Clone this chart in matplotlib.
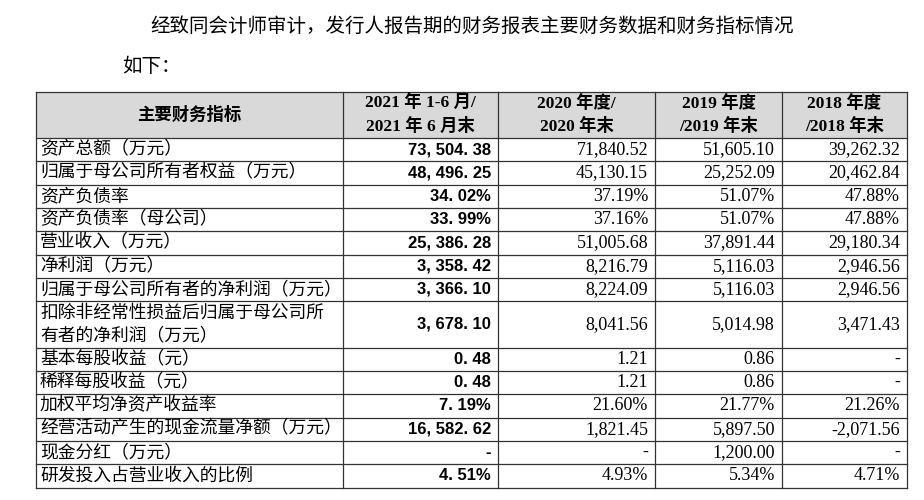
import matplotlib.pyplot as plt
from matplotlib.patches import Rectangle

plt.rcParams['font.family'] = ['Liberation Serif', 'Noto Sans CJK SC']

title_line1 = '经致同会计师审计，发行人报告期的财务报表主要财务数据和财务指标情况'
title_line2 = '如下：'
headers = ['主要财务指标', '2021 年 1-6 月/\n2021 年 6 月末', '2020 年度/\n2020 年末',
           '2019 年度\n/2019 年末', '2018 年度\n/2018 年末']
items = ['资产总额（万元）', '归属于母公司所有者权益（万元）', '资产负债率', '资产负债率（母公司）',
         '营业收入（万元）', '净利润（万元）', '归属于母公司所有者的净利润（万元）',
         '扣除非经常性损益后归属于母公司所\n有者的净利润（万元）', '基本每股收益（元）',
         '稀释每股收益（元）', '加权平均净资产收益率', '经营活动产生的现金流量净额（万元）',
         '现金分红（万元）', '研发投入占营业收入的比例']
v2021 = ['73, 504. 38', '48, 496. 25', '34. 02%', '33. 99%', '25, 386. 28', '3, 358. 42',
         '3, 366. 10', '3, 678. 10', '0. 48', '0. 48', '7. 19%', '16, 582. 62', '-', '4. 51%']
v2020 = ['71,840.52', '45,130.15', '37.19%', '37.16%', '51,005.68', '8,216.79', '8,224.09',
         '8,041.56', '1.21', '1.21', '21.60%', '1,821.45', '-', '4.93%']
v2019 = ['51,605.10', '25,252.09', '51.07%', '51.07%', '37,891.44', '5,116.03', '5,116.03',
         '5,014.98', '0.86', '0.86', '21.77%', '5,897.50', '1,200.00', '5.34%']
v2018 = ['39,262.32', '20,462.84', '47.88%', '47.88%', '29,180.34', '2,946.56', '2,946.56',
         '3,471.43', '-', '-', '21.26%', '-2,071.56', '-', '4.71%']

fig = plt.figure(figsize=(9.24, 5), dpi=100)
ax = fig.add_axes([0, 0, 1, 1])
ax.set_xlim(0, 924)
ax.set_ylim(500, 0)
ax.axis('off')

ax.text(150, 27, title_line1, fontsize=14, va='center', ha='left')
ax.text(122, 67, title_line2, fontsize=14, va='center', ha='left')

cols = [36, 343, 498, 655, 782, 907]
top, head_bot = 92, 138
rh = 23.3
heights = [2 * rh if '\n' in it else rh for it in items]
ys = [head_bot]
for h in heights:
    ys.append(ys[-1] + h)

ax.add_patch(Rectangle((cols[0], top), cols[-1] - cols[0], head_bot - top,
                       facecolor='#d9d9d9', edgecolor='none'))
for y in [top, head_bot] + ys[1:]:
    ax.plot([cols[0], cols[-1]], [y, y], color='#333333', lw=0.9)
for x in cols:
    ax.plot([x, x], [top, ys[-1]], color='#333333', lw=0.9)

for i, h in enumerate(headers):
    ax.text((cols[i] + cols[i + 1]) / 2, (top + head_bot) / 2, h, fontsize=12.5,
            weight='bold', ha='center', va='center', linespacing=1.45)

pad = 7
for r, it in enumerate(items):
    yc = (ys[r] + ys[r + 1]) / 2
    ax.text(cols[0] + 4, yc, it, fontsize=12.8, ha='left', va='center', linespacing=1.45)
    ax.text(cols[2] - pad, yc, v2021[r], fontsize=12, weight='bold', ha='right',
            va='center', family=['Liberation Sans', 'DejaVu Sans'])
    for c, vals in zip([3, 4, 5], [v2020, v2019, v2018]):
        ax.text(cols[c] - pad, yc, vals[r], fontsize=13, ha='right', va='center')

fig.savefig('out.png', dpi=100)
